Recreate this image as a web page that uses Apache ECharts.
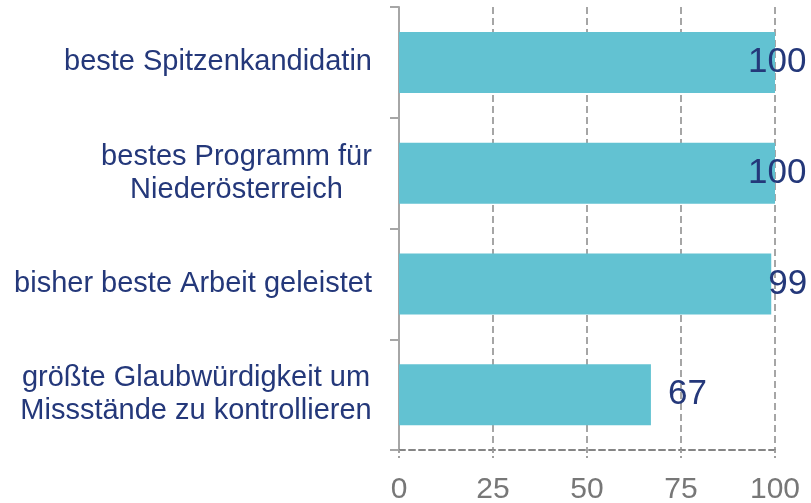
<!DOCTYPE html>
<html>
<head>
<meta charset="utf-8">
<script src="https://cdn.jsdelivr.net/npm/echarts@6/dist/echarts.min.js"></script>
<style>html,body{margin:0;padding:0;background:#fff}#c{width:811px;height:503px}</style>
</head>
<body>
<div id="c"></div>
<script>
const categories = [
  'beste Spitzenkandidatin',
  'bestes Programm für\nNiederösterreich',
  'bisher beste Arbeit geleistet',
  'größte Glaubwürdigkeit um\nMissstände zu kontrollieren'
];
const values = [100, 100, 99, 67];
const xTicks = [0, 25, 50, 75, 100];

// styling (kept separate from data)
const labelShift = [-32, -32, -8, 12];
const FONT = '"Liberation Sans", Arial, sans-serif';
const catFontSize = 29;

const ctx = document.createElement('canvas').getContext('2d');
ctx.font = catFontSize + 'px ' + FONT;
const rich = {};
categories.forEach((c, i) => {
  const w = Math.max(...c.split('\n').map(l => ctx.measureText(l).width));
  rich['r' + i] = { width: Math.ceil(w), align: 'center', fontSize: catFontSize, fontFamily: FONT, color: '#24387A', lineHeight: 33 };
});

const chart = echarts.init(document.getElementById('c'));
chart.setOption({
  animation: false,
  grid: { left: 399, right: 36, top: 7, bottom: 53, containLabel: false, outerBoundsMode: 'none' },
  xAxis: {
    type: 'value', min: 0, max: 100, interval: 25,
    axisLine: { show: true, lineStyle: { color: '#858585', width: 2, type: [6, 4] } },
    axisTick: { show: true, length: 8, lineStyle: { color: '#a0a0a0', width: 2, type: [3, 3] } },
    axisLabel: { color: '#777777', fontSize: 30, fontFamily: FONT, margin: 25,
      formatter: v => xTicks.includes(v) ? String(v) : '' },
    splitLine: { show: true, lineStyle: { color: '#a6a6a6', width: 2, type: [7, 4] } }
  },
  yAxis: {
    type: 'category', inverse: true, data: categories,
    axisLine: { show: true, lineStyle: { color: '#a6a6a6', width: 2 } },
    axisTick: { show: true, length: 9, lineStyle: { color: '#a6a6a6', width: 2 } },
    axisLabel: {
      margin: 27, fontFamily: FONT, fontSize: catFontSize, color: '#24387A',
      formatter: (v, i) => v.split('\n').map(l => '{r' + i + '|' + l + '}').join('\n'),
      rich: rich
    }
  },
  series: [{
    type: 'bar', barWidth: 61,
    itemStyle: { color: '#62C2D2' },
    data: values.map((v, i) => ({
      value: v,
      label: { show: true, position: 'right', distance: 5, offset: [labelShift[i], 0],
        fontSize: 35, fontFamily: FONT, color: '#24387A' }
    }))
  }]
});
</script>
</body>
</html>
